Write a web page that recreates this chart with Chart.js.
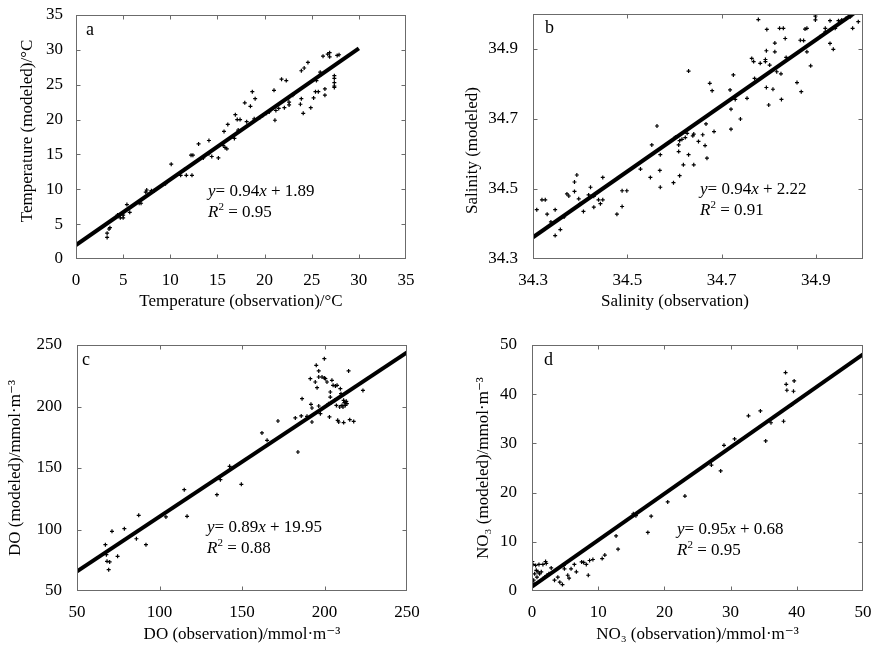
<!DOCTYPE html>
<html><head><meta charset="utf-8">
<script src="https://cdn.jsdelivr.net/npm/chart.js@4.4.1/dist/chart.umd.min.js"></script>
<style>
html,body{margin:0;padding:0;background:#fff;width:875px;height:650px;overflow:hidden}
canvas{position:absolute;display:block}
</style></head><body>
<canvas id="ca" width="430" height="320" style="left:0;top:0"></canvas>
<canvas id="cb" width="435" height="320" style="left:440px;top:0"></canvas>
<canvas id="cc" width="430" height="325" style="left:0;top:325px"></canvas>
<canvas id="cd" width="435" height="325" style="left:440px;top:325px"></canvas>
<script>
// ---------- Panel a: temperature ----------
const tempObs = [3.3,3.3,3.5,3.6,4.4,4.7,5.0,5.0,5.4,5.7,6.7,6.9,7.5,7.4,8.0,8.3,9.5,10.1,11.1,11.7,12.3,12.2,12.4,11.5,13.0,13.5,14.1,14.1,14.4,15.1,15.6,15.8,16.0,15.7,16.1,16.8,16.9,17.1,17.4,17.2,17.9,18.1,18.5,18.7,19.0,18.9,19.5,19.8,20.2,20.5,21.0,21.1,21.2,21.5,21.8,22.1,22.3,22.5,22.6,22.6,23.0,23.8,23.9,23.9,24.1,24.2,24.6,24.9,25.2,25.4,25.5,25.7,25.8,25.9,26.0,26.2,26.4,26.4,26.7,26.9,26.9,27.4,27.4,27.4,27.4,27.4,27.7,27.9];
const tempMod = [3.7,3.1,4.3,4.5,6.3,5.9,5.9,6.3,7.8,6.7,8.0,8.0,9.9,9.6,9.8,9.8,10.8,13.6,12.0,12.0,12.0,14.9,14.9,12.8,16.5,14.5,17.0,15.1,14.7,14.5,16.3,16.0,15.8,18.3,19.3,17.3,20.7,20.0,20.0,18.5,22.4,19.7,21.9,24.0,23.0,20.1,20.3,20.6,20.9,21.1,24.2,19.9,21.3,21.6,25.8,21.7,25.6,23.0,22.1,22.5,23.5,22.2,23.0,27.0,20.9,27.4,28.2,21.7,23.1,24.0,25.6,24.0,26.3,26.8,26.5,29.1,24.4,23.5,29.4,29.6,29.0,25.9,25.3,24.8,26.3,24.6,29.2,29.3];
const tempFitX = [0, 30];
const tempFitY = [2.0, 30.2];
const tempTicks = [0,5,10,15,20,25,30,35];

// ---------- Panel b: salinity ----------
const salObs = [34.308,34.319,34.326,34.330,34.338,34.347,34.347,34.358,34.366,34.372,34.376,34.388,34.393,34.388,34.397,34.400,34.407,34.418,34.422,34.429,34.429,34.439,34.443,34.448,34.448,34.478,34.489,34.489,34.499,34.528,34.549,34.552,34.563,34.569,34.570,34.570,34.598,34.602,34.609,34.609,34.611,34.611,34.616,34.619,34.623,34.627,34.630,34.630,34.639,34.641,34.641,34.651,34.660,34.665,34.669,34.667,34.675,34.680,34.684,34.718,34.720,34.720,34.725,34.729,34.740,34.754,34.764,34.768,34.770,34.778,34.782,34.793,34.793,34.795,34.795,34.796,34.800,34.802,34.809,34.813,34.813,34.817,34.823,34.826,34.827,34.831,34.835,34.837,34.860,34.867,34.869,34.874,34.877,34.881,34.881,34.889,34.899,34.899,34.909,34.920,34.920,34.930,34.930,34.937,34.941,34.948,34.955,34.964,34.973,34.978,34.990];
const salMod = [34.441,34.469,34.469,34.428,34.406,34.441,34.367,34.384,34.420,34.486,34.480,34.520,34.540,34.493,34.472,34.458,34.436,34.483,34.505,34.479,34.448,34.469,34.458,34.469,34.533,34.428,34.450,34.495,34.495,34.557,34.533,34.626,34.680,34.553,34.598,34.505,34.518,34.648,34.626,34.607,34.538,34.638,34.642,34.569,34.647,34.659,34.837,34.598,34.652,34.569,34.657,34.636,34.655,34.624,34.588,34.686,34.802,34.781,34.664,34.783,34.728,34.671,34.826,34.756,34.700,34.759,34.873,34.864,34.816,34.984,34.859,34.864,34.870,34.895,34.790,34.956,34.740,34.854,34.785,34.917,34.892,34.835,34.959,34.829,34.756,34.959,34.930,34.876,34.804,34.925,34.778,34.924,34.957,34.959,34.892,34.852,34.994,34.983,34.935,34.949,34.959,34.981,34.916,34.899,34.959,34.981,34.983,34.987,34.992,34.959,34.978];
const salFitX = [34.3, 35.0];
const salFitY = [34.362, 35.02];
const salTicks = [34.3,34.5,34.7,34.9];

// ---------- Panel c: dissolved oxygen ----------
const doObs = [67.2,67.8,68.2,69.2,69.8,71.2,74.6,78.7,86.0,87.4,91.8,103.9,115.0,116.7,134.8,136.9,142.5,149.6,162.1,165.2,171.8,182.3,183.9,185.9,186.4,189.4,191.4,191.8,192.4,192.4,194.4,195.0,195.5,196.5,196.5,196.5,197.5,198.5,199.9,199.9,200.5,201.5,202.4,203.0,203.5,203.5,203.9,204.5,205.2,206.2,206.6,207.2,207.6,208.0,208.6,209.2,209.6,210.0,210.6,211.2,211.6,211.6,212.0,212.6,213.2,213.6,214.6,215.3,217.7,223.3];
const doMod = [87.7,79.5,74.1,67.3,73.6,98.5,78.2,100.7,92.5,111.5,87.7,110.2,132.4,110.7,128.3,140.5,151.4,136.7,178.5,172.5,188.2,190.7,163.0,192.3,206.4,192.0,222.6,201.8,187.4,198.8,219.9,233.5,215.3,228.9,224.0,200.4,194.2,224.0,238.9,223.2,222.6,219.9,202.3,191.5,211.8,207.7,203.1,221.3,217.2,205.0,216.7,200.9,217.2,188.8,187.4,199.6,214.5,210.4,200.9,199.6,186.9,205.0,203.1,200.9,204.2,202.3,228.9,189.3,187.9,213.1];
const doFitX = [50, 250];
const doFitY = [66, 244];
const doTicks = [50,100,150,200,250];

// ---------- Panel d: nitrate ----------
const no3Obs = [0.05,0.15,0.25,0.3,0.4,0.55,0.65,0.75,0.9,1.05,1.15,1.4,1.65,1.9,2.05,2.15,2.25,2.55,2.9,3.4,3.9,4.2,4.6,4.8,4.9,5.4,5.6,5.9,6.4,6.7,7.5,7.8,8.2,8.5,8.7,9.2,10.6,11.0,12.7,13.0,15.3,15.7,17.5,18.0,20.5,23.1,27.1,28.5,29.0,30.6,32.7,34.5,35.3,36.1,38.0,38.3,38.4,38.5,39.2,39.5,39.6];
const no3Mod = [6.0,5.4,2.2,1.5,3.5,5.2,4.2,2.8,3.9,5.4,3.5,3.9,5.4,2.8,6.0,5.6,3.2,3.5,4.7,2.2,2.8,1.8,1.3,5.2,4.5,3.2,2.6,4.5,5.4,3.9,5.9,5.8,5.4,3.2,6.2,6.4,6.6,7.3,11.2,8.5,15.7,15.3,11.9,15.2,18.1,19.3,25.6,24.4,29.6,30.9,35.6,36.6,30.5,34.2,34.5,44.4,42.0,40.8,37.8,40.6,42.7];
const no3FitX = [0, 50];
const no3FitY = [0.9, 48.1];
const no3Ticks = [0,10,20,30,40,50];

// ---------- Fit statistics ----------
const fitSlope = [0.94, 0.94, 0.89, 0.95];
const fitIntercept = [1.89, 2.22, 19.95, 0.68];
const fitR2 = [0.95, 0.91, 0.88, 0.95];
const panelLetters = ['a','b','c','d'];

const FONT = "'Liberation Serif', 'DejaVu Serif', 'Times New Roman', serif";
Chart.defaults.font.family = FONT;
Chart.defaults.font.size = 17;
Chart.defaults.color = '#000';

function pairs(xs, ys){ return xs.map((v,i)=>({x:v, y:ys[i]})); }

function drawRich(ctx, x, y, segs){
  for (const s of segs){
    ctx.font = (s.i ? 'italic ' : '') + (s.sup ? '11px ' : '17px ') + FONT;
    ctx.fillText(s.t, x, s.sup ? y - 6 : y);
    x += ctx.measureText(s.t).width;
  }
}

function shiftTitle(s, dx, dy){
  if (s._titleShifted || (!dx && !dy)) return;
  s._titleShifted = true;
  const orig = s.drawTitle;
  s.drawTitle = function(){
    const ctx = this.ctx; ctx.save(); ctx.translate(dx, dy); orig.call(this); ctx.restore();
  };
}

const framePlugin = {
  id: 'frame',
  afterDraw(chart, args, o){
    const {ctx, chartArea: a} = chart;
    const x = chart.scales.x, y = chart.scales.y;
    ctx.save();
    ctx.strokeStyle = '#6b6b6b';
    ctx.lineWidth = 1;
    const L = Math.round(a.left)+0.5, T = Math.round(a.top)+0.5, R = Math.round(a.right)-0.5, B = Math.round(a.bottom)-0.5;
    ctx.strokeRect(L, T, R-L, B-T);
    ctx.beginPath();
    x.ticks.forEach(t => {
      const p = Math.round(x.getPixelForValue(t.value))+0.5;
      if (p <= L+1 || p >= R-1) return;
      ctx.moveTo(p, B); ctx.lineTo(p, B-4);
      ctx.moveTo(p, T); ctx.lineTo(p, T+4);
    });
    y.ticks.forEach(t => {
      const p = Math.round(y.getPixelForValue(t.value))+0.5;
      if (p <= T+1 || p >= B-1) return;
      ctx.moveTo(L, p); ctx.lineTo(L+4, p);
      ctx.moveTo(R, p); ctx.lineTo(R-4, p);
    });
    ctx.stroke();
    ctx.fillStyle = '#000';
    ctx.textBaseline = 'middle';
    ctx.textAlign = 'left';
    ctx.font = '18px ' + FONT;
    ctx.fillText(panelLetters[o.k], a.left + o.ldx, a.top + o.ldy);
    const k = o.k;
    drawRich(ctx, a.left + o.edx, a.top + o.edy, [
      {t:'y', i:1}, {t:'= ' + fitSlope[k].toFixed(2)}, {t:'x', i:1}, {t:' + ' + fitIntercept[k].toFixed(2)}
    ]);
    drawRich(ctx, a.left + o.edx, a.top + o.edy + 21, [
      {t:'R', i:1}, {t:'2', sup:1}, {t:' = ' + fitR2[k].toFixed(2)}
    ]);
    ctx.restore();
  }
};

function zeroPad(s){ s.paddingTop = 0; s.paddingBottom = 0; s.paddingLeft = 0; s.paddingRight = 0; }

function makePanel(id, c){
  new Chart(document.getElementById(id), {
    type: 'scatter',
    data: { datasets: [
      { type:'line', data: pairs(c.fitX, c.fitY), borderColor:'#000', borderWidth:4, pointRadius:0, fill:false, tension:0 },
      { data: pairs(c.obs, c.mod), pointStyle:'cross', pointRadius:2, borderColor:'#000', backgroundColor:'#000', borderWidth:1.2 }
    ]},
    options: {
      responsive:false, animation:false, events:[],
      layout: { padding: { top:c.padTop, right:c.padRight, left:0, bottom:0 } },
      plugins: { legend:{display:false}, tooltip:{enabled:false}, frame: c.frame },
      scales: {
        x: {
          type:'linear', min:c.xMin, max:c.xMax,
          grid:{display:false, drawTicks:false}, border:{display:false},
          afterBuildTicks: s => { s.ticks = c.xTicks.map(v => ({value:v})); },
          afterFit: s => { s.height = c.xH; zeroPad(s); shiftTitle(s, c.xTitleDx || 0, 0); },
          ticks:{ padding:11, maxRotation:0, autoSkip:false, callback:(v,i)=>String(c.xTicks[i]) },
          title:{ display:true, text:c.xTitle, padding:{top:0, bottom:c.xTitlePad} }
        },
        y: {
          type:'linear', min:c.yMin, max:c.yMax,
          grid:{display:false, drawTicks:false}, border:{display:false},
          afterBuildTicks: s => { s.ticks = c.yTicks.map(v => ({value:v})); },
          afterFit: s => { s.width = c.yW; zeroPad(s); shiftTitle(s, 0, c.yTitleDy || 0); },
          ticks:{ padding:c.yTickPad, autoSkip:false, callback:(v,i)=>String(c.yTicks[i]) },
          title:{ display:true, text:c.yTitle, padding:{top:c.yTitlePad, bottom:0} }
        }
      }
    },
    plugins: [framePlugin]
  });
}

makePanel('ca', { obs:tempObs, mod:tempMod, fitX:tempFitX, fitY:tempFitY,
  xMin:0, xMax:35, yMin:0, yMax:35, xTicks:tempTicks, yTicks:tempTicks,
  xTitle:'Temperature (observation)/°C', yTitle:'Temperature (modeled)/°C',
  padTop:15, padRight:24, xH:61, yW:76, yTickPad:13, yTitlePad:17, xTitlePad:8, yTitleDy:-6,
  frame:{k:0, ldx:10, ldy:15, edx:132, edy:177} });

makePanel('cb', { obs:salObs, mod:salMod, fitX:salFitX, fitY:salFitY,
  xMin:34.3, xMax:35.0, yMin:34.3, yMax:35.0, xTicks:salTicks, yTicks:salTicks,
  xTitle:'Salinity (observation)', yTitle:'Salinity (modeled)',
  padTop:14, padRight:12, xH:61, yW:93, yTickPad:15, yTitlePad:22, xTitlePad:8, xTitleDx:-23, yTitleDy:14,
  frame:{k:1, ldx:12, ldy:14, edx:167, edy:176} });

makePanel('cc', { obs:doObs, mod:doMod, fitX:doFitX, fitY:doFitY,
  xMin:50, xMax:250, yMin:50, yMax:250, xTicks:doTicks, yTicks:doTicks,
  xTitle:'DO (observation)/mmol·m⁻³', yTitle:'DO (modeled)/mmol·m⁻³',
  padTop:20, padRight:23, xH:59, yW:77, yTickPad:15, yTitlePad:5, xTitlePad:5,
  frame:{k:2, ldx:5, ldy:15, edx:130, edy:183} });

makePanel('cd', { obs:no3Obs, mod:no3Mod, fitX:no3FitX, fitY:no3FitY,
  xMin:0, xMax:50, yMin:0, yMax:50, xTicks:no3Ticks, yTicks:no3Ticks,
  xTitle:'NO₃ (observation)/mmol·m⁻³', yTitle:'NO₃ (modeled)/mmol·m⁻³',
  padTop:20, padRight:12, xH:59, yW:92, yTickPad:15, yTitlePad:33, xTitlePad:5,
  frame:{k:3, ldx:12, ldy:15, edx:145, edy:185} });
</script>
</body></html>
